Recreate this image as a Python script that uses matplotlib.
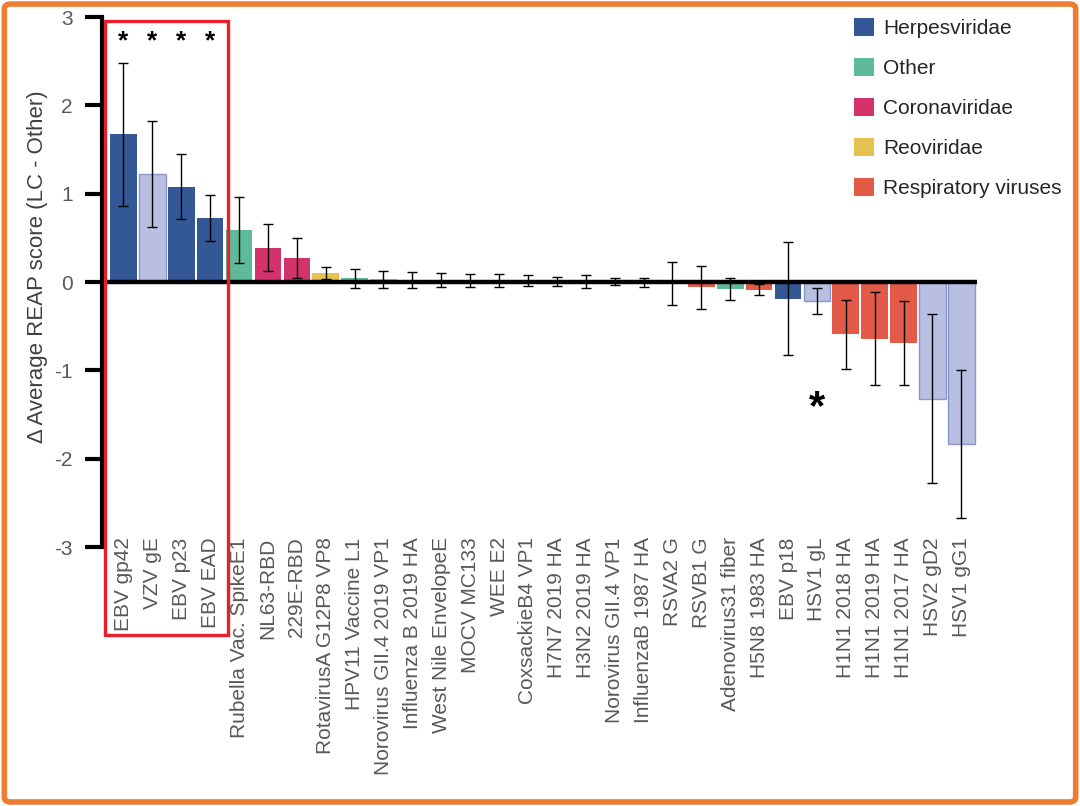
# REAP score difference per antigen, LC vs other
import matplotlib
matplotlib.use("Agg")
import matplotlib.pyplot as plt
from matplotlib.patches import Rectangle, FancyBboxPatch, Patch

plt.rcParams['font.family'] = ['Liberation Sans', 'DejaVu Sans']
plt.rcParams['axes.unicode_minus'] = False

antigens = ["EBV gp42", "VZV gE", "EBV p23", "EBV EAD", "Rubella Vac. SpikeE1",
            "NL63-RBD", "229E-RBD", "RotavirusA G12P8 VP8", "HPV11 Vaccine L1",
            "Norovirus GII.4 2019 VP1", "Influenza B 2019 HA", "West Nile EnvelopeE",
            "MOCV MC133", "WEE E2", "CoxsackieB4 VP1", "H7N7 2019 HA", "H3N2 2019 HA",
            "Norovirus GII.4 VP1", "InfluenzaB 1987 HA", "RSVA2 G", "RSVB1 G",
            "Adenovirus31 fiber", "H5N8 1983 HA", "EBV p18", "HSV1 gL",
            "H1N1 2018 HA", "H1N1 2019 HA", "H1N1 2017 HA", "HSV2 gD2", "HSV1 gG1"]
delta = [1.67, 1.22, 1.08, 0.73, 0.59, 0.39, 0.27, 0.10, 0.04, 0.03,
         0.02, 0.02, 0.02, 0.02, 0.015, 0.01, 0.005, 0.005, -0.005, -0.015,
         -0.06, -0.075, -0.085, -0.19, -0.215, -0.59, -0.64, -0.69, -1.32, -1.835]
err = [0.81, 0.60, 0.37, 0.26, 0.37, 0.265, 0.225, 0.07, 0.11, 0.10,
       0.09, 0.08, 0.075, 0.075, 0.06, 0.05, 0.07, 0.04, 0.055, 0.245,
       0.245, 0.125, 0.065, 0.64, 0.145, 0.39, 0.53, 0.475, 0.955, 0.835]
family = ["Herpesviridae", "Herpesviridae", "Herpesviridae", "Herpesviridae", "Other",
          "Coronaviridae", "Coronaviridae", "Reoviridae", "Other", "Reoviridae",
          "Respiratory viruses", "Other", "Other", "Other", "Other",
          "Respiratory viruses", "Respiratory viruses", "Reoviridae", "Respiratory viruses",
          "Respiratory viruses", "Respiratory viruses", "Other", "Respiratory viruses",
          "Herpesviridae", "Herpesviridae", "Respiratory viruses", "Respiratory viruses",
          "Respiratory viruses", "Herpesviridae", "Herpesviridae"]
# light = pale herpes bars
light = ["VZV gE", "HSV1 gL", "HSV2 gD2", "HSV1 gG1"]
starred = ["EBV gp42", "VZV gE", "EBV p23", "EBV EAD"]

fam_colors = {"Herpesviridae": "#345795", "Other": "#5DBB9C",
              "Coronaviridae": "#D2336A", "Reoviridae": "#E6C14E",
              "Respiratory viruses": "#E35A48"}
light_face = "#B8BFE1"
light_edge = "#8C96CD"

fig = plt.figure(figsize=(10.8, 8.06), dpi=100)
ax = fig.add_axes([0.0944, 0.3213, 0.8102, 0.6576])

x = list(range(len(antigens)))
faces = [light_face if a in light else fam_colors[f] for a, f in zip(antigens, family)]
edges = [light_edge if a in light else "none" for a in antigens]
ax.bar(x, delta, width=0.92, color=faces, edgecolor=edges, linewidth=1.0, zorder=2)
ax.errorbar(x, delta, yerr=err, fmt="none", ecolor="black", elinewidth=1.0,
            capsize=3.5, capthick=1.0, zorder=3)
ax.axhline(0, color="black", lw=3.2, zorder=4)

ax.set_xlim(-0.744, 29.54)
ax.set_ylim(-3, 3)
ax.set_yticks([-3, -2, -1, 0, 1, 2, 3])
ax.set_xticks(x)
ax.set_xticklabels(antigens, rotation=90, fontsize=15, color="#595959")
ax.tick_params(axis="x", length=0, pad=-7)
ax.tick_params(axis="y", length=12, width=3, direction="out", pad=9,
               labelsize=15, labelcolor="#595959")
for s in ["top", "right", "bottom"]:
    ax.spines[s].set_visible(False)
ax.spines["left"].set_linewidth(3)
ax.set_ylabel("Δ Average REAP score (LC - Other)", fontsize=16, color="#404040")
ax.yaxis.set_label_coords(-0.062, 0.528)

# significance marks
for a in starred:
    ax.text(antigens.index(a), 2.72, "*", ha="center", va="center",
            fontsize=19, fontweight="bold")
ax.text(antigens.index("HSV1 gL"), -1.43, "*", ha="center", va="center",
        fontsize=30, fontweight="bold")

# red box around the first group
ax.add_patch(Rectangle((-0.64, -4.0), 4.27, 6.96, fill=False, edgecolor="#E8202A",
                       lw=2.4, clip_on=False, zorder=5))

handles = [Patch(facecolor=c, edgecolor="none") for c in fam_colors.values()]
fig.legend(handles, list(fam_colors.keys()), loc="upper left",
           bbox_to_anchor=(854 / 1080, 1 - 18 / 806), frameon=False, fontsize=15,
           handlelength=0.95, handleheight=0.95, handletextpad=0.45,
           labelspacing=0.95, borderpad=0, borderaxespad=0, labelcolor="#262626")

# orange frame around the whole figure
fig.patches.append(FancyBboxPatch((0.004, 0.005), 0.992, 0.99,
                                  boxstyle="round,pad=0,rounding_size=0.006",
                                  transform=fig.transFigure, fill=False,
                                  edgecolor="#ED7D31", lw=4))

fig.savefig("out.png", dpi=100)
